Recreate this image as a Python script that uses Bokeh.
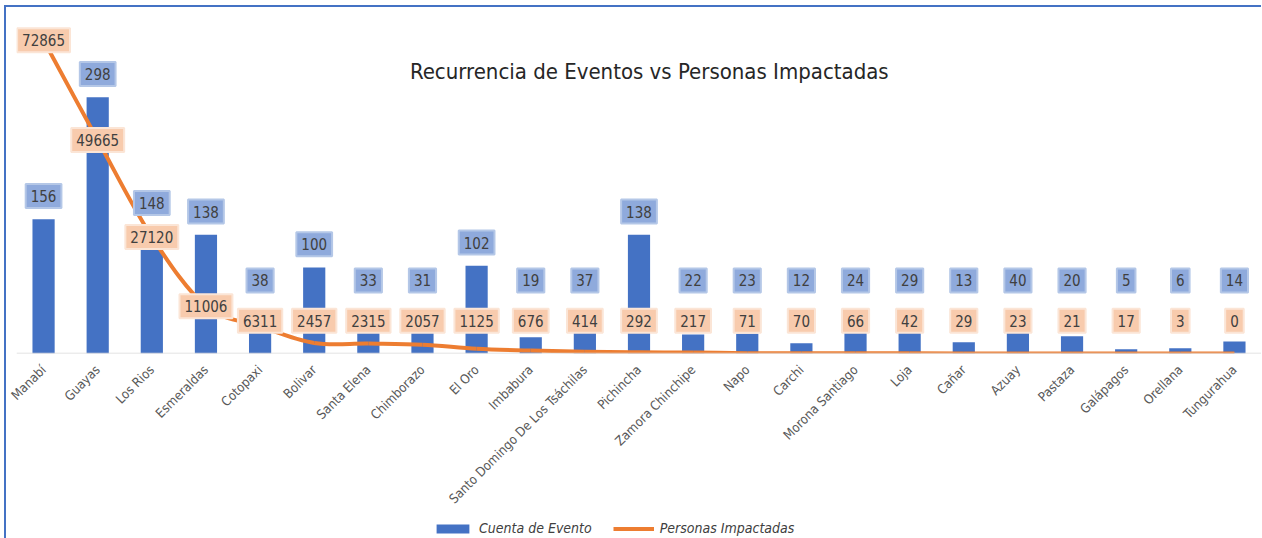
import math
from bokeh.plotting import figure
from bokeh.layouts import column
from bokeh.models import (ColumnDataSource, Range1d, FixedTicker, Span, Label,
                          Legend, LegendItem)
from bokeh.core.properties import value
from bokeh.embed import file_html
from bokeh.resources import INLINE

# ---------------- data ----------------
provincias = ["Manabí", "Guayas", "Los Rios", "Esmeraldas", "Cotopaxi", "Bolivar",
              "Santa Elena", "Chimborazo", "El Oro", "Imbabura",
              "Santo Domingo De Los Tsáchilas", "Pichincha", "Zamora Chinchipe",
              "Napo", "Carchi", "Morona Santiago", "Loja", "Cañar", "Azuay",
              "Pastaza", "Galápagos", "Orellana", "Tungurahua"]
cuenta_evento = [156, 298, 148, 138, 38, 100, 33, 31, 102, 19, 37, 138, 22,
                 23, 12, 24, 29, 13, 40, 20, 5, 6, 14]
personas_impactadas = [72865, 49665, 27120, 11006, 6311, 2457, 2315, 2057, 1125,
                       676, 414, 292, 217, 71, 70, 66, 42, 29, 23, 21, 17, 3, 0]
titulo = "Recurrencia de Eventos vs Personas Impactadas"
serie_barras = "Cuenta de Evento"
serie_linea = "Personas Impactadas"

FONT = "DejaVu Sans Condensed, Roboto Condensed, Roboto, sans-serif"
BLUE = "#4472C4"
ORANGE = "#ED7D31"
TXT = "#404040"

n = len(provincias)
xs = list(range(n))

p = figure(width=1255, height=507, output_backend="svg", toolbar_location=None,
           x_range=Range1d(-0.5, n - 0.5), y_range=Range1d(0, 400),
           min_border_left=10, min_border_right=0, min_border_top=2,
           min_border_bottom=156, y_axis_location=None)
p.extra_y_ranges = {"sec": Range1d(0, 80000)}
p.grid.visible = False
p.outline_line_color = None

ax = p.xaxis[0]
ax.ticker = FixedTicker(ticks=xs)
ax.major_label_overrides = {i: name for i, name in enumerate(provincias)}
ax.major_label_orientation = math.pi / 4
ax.axis_line_color = None
ax.major_tick_line_color = None
ax.minor_tick_line_color = None
ax.major_label_text_font = FONT
ax.major_label_text_font_size = "13px"
ax.major_label_text_color = "#595959"
ax.major_label_standoff = 8

p.add_layout(Span(location=0, dimension="width", line_color="#D9D9D9", line_width=1.5))

bars = p.vbar(x=xs, top=cuenta_evento, width=0.41, fill_color=BLUE, line_color=None)

# smoothed line (Excel-like) using bezier segments through the data points
x0, y0, x1, y1, cx0, cy0, cx1, cy1 = [], [], [], [], [], [], [], []
for i in range(n - 1):
    a = max(i - 1, 0)
    d = min(i + 2, n - 1)
    px0, py0 = xs[i], personas_impactadas[i]
    px1, py1 = xs[i + 1], personas_impactadas[i + 1]
    x0.append(px0); y0.append(py0); x1.append(px1); y1.append(py1)
    cx0.append(px0 + (px1 - xs[a]) / 6.0)
    cy0.append(py0 + (py1 - personas_impactadas[a]) / 6.0)
    cx1.append(px1 - (xs[d] - px0) / 6.0)
    cy1.append(py1 - (personas_impactadas[d] - py0) / 6.0)
p.bezier(x0=x0, y0=y0, x1=x1, y1=y1, cx0=cx0, cy0=cy0, cx1=cx1, cy1=cy1,
         line_color=ORANGE, line_width=4, y_range_name="sec")

# data labels
blue_src = ColumnDataSource(dict(x=xs, y=[max(v + 27, 85) for v in cuenta_evento],
                                 t=[str(v) for v in cuenta_evento]))
p.text(x="x", y="y", text="t", source=blue_src, text_align="center",
       text_baseline="middle", text_font=value(FONT), text_font_size="15px",
       text_color=TXT, background_fill_color="#8FAADC",
       border_line_color="#B4C7E7", border_line_width=2, padding=(5, 6))

orange_src = ColumnDataSource(dict(x=xs, y=[max(v, 7600) for v in personas_impactadas],
                                   t=[str(v) for v in personas_impactadas]))
p.text(x="x", y="y", text="t", source=orange_src, y_range_name="sec",
       text_align="center", text_baseline="middle", text_font=value(FONT),
       text_font_size="15px", text_color=TXT, background_fill_color="#F8CBAD",
       border_line_color="#FBE5D6", border_line_width=2, padding=(5, 6))

p.add_layout(Label(x=11.19, y=328, text=titulo, text_align="center",
                   text_baseline="middle", text_font=FONT, text_font_size="22px",
                   text_color="#262626"))

# legend in a slim strip below the chart (legend renderers sit outside the view)
lg = figure(width=1255, height=24, output_backend="svg", toolbar_location=None,
            x_range=Range1d(0, 1), y_range=Range1d(0, 1),
            min_border_left=0, min_border_right=0, min_border_top=0,
            min_border_bottom=0, x_axis_location=None, y_axis_location=None)
lg.grid.visible = False
lg.outline_line_color = None
lb = lg.vbar(x=[5], top=[1], width=0.4, fill_color=BLUE, line_color=None)
ll = lg.line(x=[5, 6], y=[5, 5], line_color=ORANGE, line_width=4)
legend = Legend(items=[LegendItem(label=serie_barras, renderers=[lb]),
                       LegendItem(label=serie_linea, renderers=[ll])],
                location=(416, 2), orientation="horizontal", padding=0, margin=0,
                spacing=21, label_standoff=6, glyph_width=41, glyph_height=11,
                label_text_font=FONT, label_text_font_style="italic",
                label_text_font_size="14px", label_text_color=TXT,
                background_fill_alpha=0, border_line_color=None)
lg.add_layout(legend, "center")

layout = column(p, lg, spacing=0,
                styles={"margin-left": "4px", "margin-top": "5px",
                        "border-left": "2px solid #4472C4",
                        "border-top": "2px solid #4472C4"})

open("out.html", "w").write(file_html(layout, INLINE))
